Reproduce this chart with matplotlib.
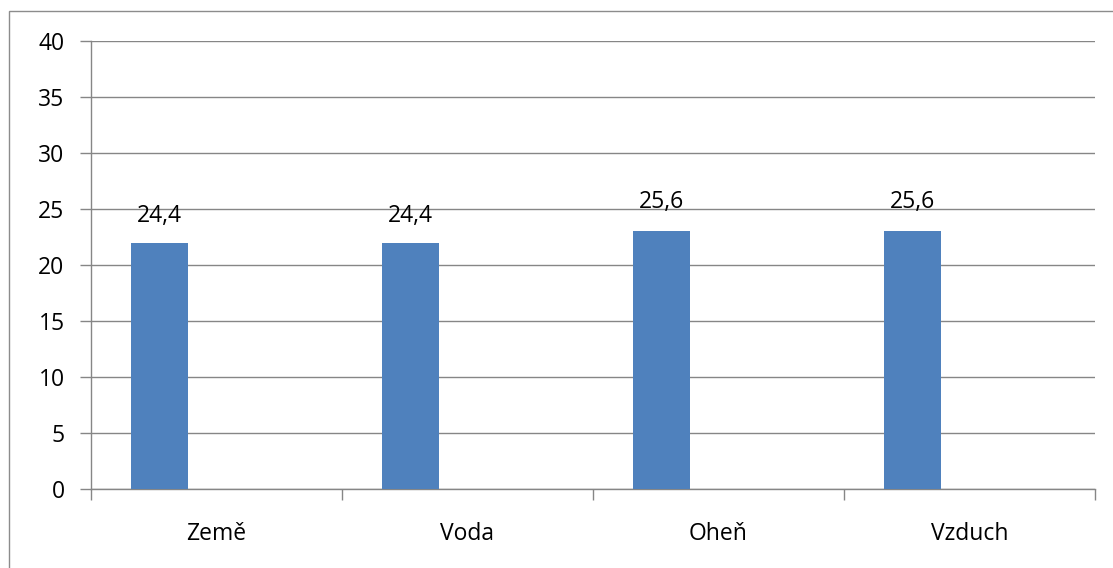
import matplotlib.pyplot as plt
import numpy as np
from matplotlib.patches import Rectangle

categories = ['Země', 'Voda', 'Oheň', 'Vzduch']
bar_values = [22, 22, 23, 23]
label_values = [24.4, 24.4, 25.6, 25.6]
label_texts = ['24,4', '24,4', '25,6', '25,6']
y_ticks = [0, 5, 10, 15, 20, 25, 30, 35, 40]


def plot_chart():
    plt.rcParams['font.family'] = ['Open Sans', 'DejaVu Sans']
    fig = plt.figure(figsize=(11.13, 5.68), dpi=100)
    ax = fig.add_axes([91 / 1113, 1 - 489 / 568, (1095 - 91) / 1113, (489 - 41) / 568])

    grid_color = '#868686'
    fs = 16.5
    width = 0.227
    x = np.arange(len(categories))
    ax.bar(x - width, bar_values, width=width, color='#4F81BD', zorder=3)
    for xi, yv, txt in zip(x, label_values, label_texts):
        ax.text(xi - width, yv, txt, ha='center', va='center', fontsize=fs, zorder=4)

    ax.set_xlim(-0.5, len(categories) - 0.5)
    ax.set_ylim(0, 40)
    ax.set_yticks(y_ticks)
    ax.yaxis.grid(True, color=grid_color, linewidth=1.0, zorder=0)
    ax.set_axisbelow(True)

    # category boundaries carry the x ticks, labels sit in the middle
    ax.set_xticks(np.arange(len(categories) + 1) - 0.5)
    ax.set_xticklabels([])
    ax.set_xticks(x, minor=True)
    ax.set_xticklabels(categories, minor=True, fontsize=fs)
    ax.tick_params(axis='x', which='major', length=8, width=1.0, color=grid_color, direction='out')
    ax.tick_params(axis='x', which='minor', length=0, pad=24)
    ax.tick_params(axis='y', length=8, width=1.0, color=grid_color, pad=11, labelsize=fs)

    for side in ['top', 'right']:
        ax.spines[side].set_visible(False)
    for side in ['left', 'bottom']:
        ax.spines[side].set_color(grid_color)
        ax.spines[side].set_linewidth(1.0)

    fig.patches.append(Rectangle((9 / 1113, -0.1), 1.2, 1 - 11 / 568 + 0.1,
                                 transform=fig.transFigure, fill=False,
                                 edgecolor='#8c8c8c', linewidth=1.0))
    fig.savefig('out.png', dpi=100)


def main():
    plot_chart()


if __name__ == '__main__':
    main()
